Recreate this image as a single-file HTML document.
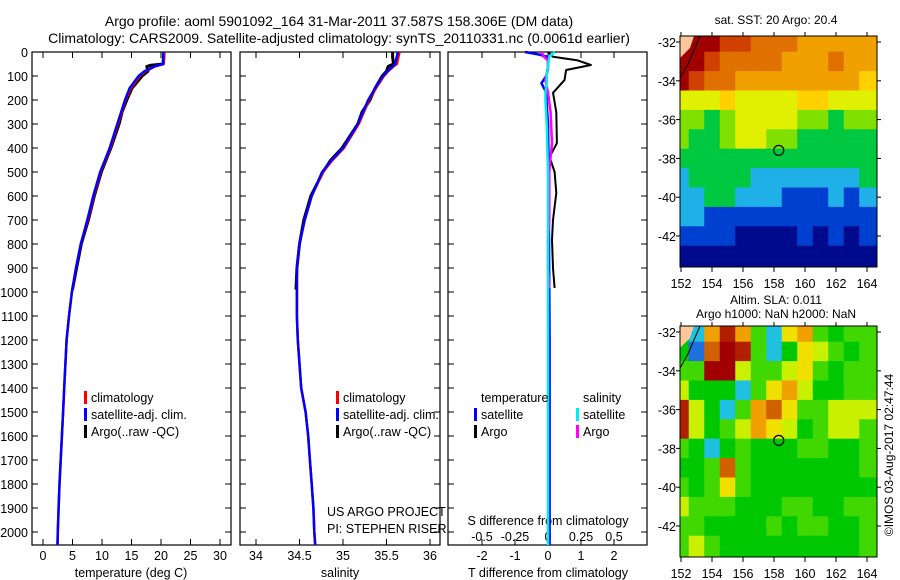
<!DOCTYPE html>
<html><head><meta charset="utf-8"><style>
body{margin:0;background:#fff;}
svg{display:block;font-family:"Liberation Sans",sans-serif;}
text{fill:#000;}
</style></head><body>
<svg id="c" width="900" height="580" xmlns="http://www.w3.org/2000/svg">
<defs>
<clipPath id="cm1"><rect x="680" y="36" width="197" height="231"/></clipPath>
<clipPath id="cm2"><rect x="680" y="326" width="197" height="231"/></clipPath>
</defs>
<text x="339" y="26" font-size="14" text-anchor="middle">Argo profile: aoml 5901092_164 31-Mar-2011 37.587S 158.306E (DM data)</text>
<text x="339" y="43" font-size="14" text-anchor="middle">Climatology: CARS2009. Satellite-adjusted climatology: synTS_20110331.nc (0.0061d earlier)</text>
<text x="776" y="24" font-size="12" text-anchor="middle">sat. SST: 20 Argo: 20.4</text>
<text x="776" y="304" font-size="12" text-anchor="middle">Altim. SLA: 0.011</text>
<text x="776" y="318" font-size="12" text-anchor="middle">Argo h1000: NaN h2000: NaN</text>
<text transform="translate(893,455) rotate(-90)" font-size="12" text-anchor="middle">©IMOS 03-Aug-2017 02:47:44</text>
<g id="g"></g>
</svg>
<script>
// ---- profile data ----
const depthsClim = [0,50,60,80,100,150,200,300,400,450,500,600,700,800,900,1000,1100,1200,1300,1400,1500,1600,1700,1800,1900,2000,2054];
const tempClim  = [20.6,20.4,19.0,17.4,16.4,14.9,14.0,12.7,11.4,10.6,9.8,8.6,7.6,6.4,5.6,4.9,4.4,4.0,3.8,3.6,3.4,3.2,3.0,2.8,2.65,2.5,2.45];
const tempSat   = [20.4,20.3,18.9,17.2,16.2,14.7,13.9,12.6,11.3,10.5,9.7,8.5,7.5,6.4,5.6,4.9,4.4,4.0,3.8,3.6,3.4,3.2,3.0,2.8,2.65,2.5,2.45];
const salClim   = [35.65,35.62,35.58,35.52,35.47,35.38,35.30,35.18,35.01,34.88,34.77,34.64,34.56,34.5,34.47,34.47,34.47,34.48,34.5,34.52,34.57,34.6,34.62,34.64,34.66,34.67,34.68];
const salSat    = [35.63,35.6,35.57,35.51,35.46,35.37,35.29,35.17,35.0,34.87,34.76,34.64,34.56,34.5,34.47,34.47,34.47,34.48,34.5,34.52,34.57,34.6,34.62,34.64,34.66,34.67,34.68];
const depthsArgo = [0,20,50,55,60,80,100,150,200,250,300,400,450,500,600,700,800,900,990];
const tempArgo = [20.5,20.5,20.4,18.3,17.6,17.8,16.8,15.1,14.2,13.4,12.9,11.5,10.7,9.9,8.7,7.7,6.5,5.7,5.0];
const salArgo  = [35.57,35.57,35.58,35.55,35.52,35.5,35.45,35.37,35.31,35.22,35.17,34.99,34.86,34.77,34.63,34.55,34.5,34.47,34.46];
const depthsDiff = [0,20,35,54,75,117,170,250,380,437,500,587,700,783,900,983];
const tDiffArgo = [0,0.15,0.9,1.3,0.55,0.5,0.15,0.25,0.27,0.05,0.2,0.25,0.15,0.12,0.15,0.2];
const depthsSat = [0,10,20,60,100,130,170,200,300,500,800,1200,1600,2000,2054];
const tDiffSat = [-0.7,-0.3,0,0,-0.05,-0.2,-0.05,-0.05,0,0.02,0.03,0.05,0.05,0.05,0.05];
const sDiffArgo = [-0.05,-0.03,0,0.0,0.0,-0.02,0.0,0.02,0.03,0.02,0.01,0.01,0.01,0.0,0.0,0.01];
const sDiffSat = [0.05,0.03,0.01,0.0,-0.01,-0.01,-0.02,-0.02,-0.01,0.0,0.0,0.0,0.0,0.0,0.0];
const depthTicks = [0,100,200,300,400,500,600,700,800,900,1000,1100,1200,1300,1400,1500,1600,1700,1800,1900,2000];
const tempTicks = [0,5,10,15,20,25,30];
const salTicks = [34,34.5,35,35.5,36];
const salTickLabels = ["34","34.5","35","35.5","36"];
const tdTicks = [-2,-1,0,1,2];
const sdTicks = [-0.5,-0.25,0,0.25,0.5];
const sdTickLabels = ["-0.5","-0.25","0","0.25","0.5"];
// ---- map data (colour index 0..10) ----
const mapLons = [152,153,154,155,156,157,158,159,160,161,162,163,164];
const mapLats = [-32,-33,-34,-35,-36,-37,-38,-39,-40,-41,-42,-43];
const sstGrid = [
[10,10,10,9,9,8,8,8,7,7,7,7,7],
[10,10,9,8,8,8,8,7,7,7,8,7,7],
[10,9,8,8,7,7,7,7,7,7,7,7,6],
[5,5,5,6,5,5,5,5,6,6,5,5,5],
[4,4,3,4,5,5,5,5,4,4,3,4,4],
[4,3,3,4,5,5,4,4,3,3,3,3,3],
[3,3,3,3,3,3,3,3,3,3,3,3,3],
[2,3,3,3,3,2,2,2,2,2,2,2,3],
[2,2,3,3,2,2,2,1,1,1,2,1,2],
[2,2,1,1,1,1,1,1,1,1,1,1,1],
[1,1,1,1,0,0,0,0,1,0,1,0,1],
[0,0,0,0,0,0,0,0,0,0,0,0,0]];
const slaGrid = [
[3,2,7,9,7,4,2,6,7,4,3,4,4],
[3,1,8,10,9,4,2,3,6,5,4,3,4],
[4,4,10,10,5,4,4,5,6,4,3,4,4],
[5,3,3,3,2,4,6,7,5,3,3,4,4],
[9,5,3,2,4,7,8,6,4,4,5,5,5],
[9,5,3,4,5,7,6,5,3,4,5,5,4],
[4,3,2,3,4,3,3,3,4,4,3,3,4],
[3,3,4,8,4,3,3,3,3,3,3,3,4],
[4,3,4,6,4,3,3,3,3,3,3,3,3],
[5,4,4,4,3,3,3,4,4,3,3,4,4],
[4,4,3,3,3,3,4,3,4,4,3,3,4],
[4,5,4,3,3,3,3,3,3,3,3,3,4]];
const mapLonTicks = [152,154,156,158,160,162,164];
const mapLatTicks = [-32,-34,-36,-38,-40,-42];
const argoLon = 158.306, argoLat = -37.587;

const cmap = ["#000a8c","#0040d0","#20b0e8","#00c840","#80e000","#e0f000","#ffd000","#f0a000","#e07000","#d04000","#a00000"];
const slaCmap = ["#000a8c","#2070e0","#20c0e0","#00c800","#40d800","#c8f000","#f0e000","#f0a000","#d06000","#b02000","#a00000"];
const NS="http://www.w3.org/2000/svg";
const G=document.getElementById('g');
function el(t,a,p){const e=document.createElementNS(NS,t);for(const k in a)e.setAttribute(k,a[k]);(p||G).appendChild(e);return e;}
const Y=d=>52+d*0.24;
const xT=v=>43+v*5.9, xS=v=>256+(v-34)*87, xTD=v=>548+v*33, xSD=v=>548+v*132;
const panels=[[32,231],[240,440],[448,647]];
panels.forEach((p,i)=>{
 const r=el('rect',{x:p[0],y:52,width:p[1]-p[0],height:493,fill:'none',stroke:'#000','stroke-width':1.2});
 
 
 depthTicks.forEach(d=>{el('line',{x1:p[0],x2:p[0]+6,y1:Y(d),y2:Y(d),stroke:'#000'});el('line',{x1:p[1],x2:p[1]-6,y1:Y(d),y2:Y(d),stroke:'#000'});});
});
depthTicks.forEach(d=>{const t=el('text',{x:28,y:Y(d)+5,'font-size':12.5,'text-anchor':'end'});t.textContent=d;
 
 });
function xticks(vals,labels,fx,y,lab){vals.forEach((v,i)=>{const x=fx(v);
 el('line',{x1:x,x2:x,y1:545,y2:539,stroke:'#000'});el('line',{x1:x,x2:x,y1:52,y2:58,stroke:'#000'});
 const t=el('text',{x:x,y:y,'font-size':12.5,'text-anchor':'middle'});t.textContent=labels[i];
 
 });}
xticks(tempTicks,tempTicks.map(String),xT,560,'temp-tick-label');
xticks(salTicks,salTickLabels,xS,560,'salinity-tick-label');
xticks(tdTicks,tdTicks.map(String),xTD,560,'tdiff-tick-label');
sdTicks.forEach((v,i)=>{const t=el('text',{x:xSD(v),y:541,'font-size':12.5,'text-anchor':'middle'});t.textContent=sdTickLabels[i];
 
 });
function txt(x,y,s,name,anchor){const t=el('text',{x:x,y:y,'font-size':12.5,'text-anchor':anchor||'start'});t.textContent=s;
 
 return t;}
txt(131,577,'temperature (deg C)','temp-axis-title','middle');
txt(340,577,'salinity','salinity-axis-title','middle');
txt(548,577,'T difference from climatology','tdiff-axis-title','middle');
txt(548,525,'S difference from climatology','sdiff-axis-title','middle');
txt(327,516,'US ARGO PROJECT','project-label');
txt(327,533,'PI: STEPHEN RISER','pi-label');
function line(xs,ds,fx,col,name,w){const pts=xs.map((v,i)=>fx(v).toFixed(1)+','+Y(ds[i]).toFixed(1)).join(' ');
 const l=el('polyline',{points:pts,fill:'none',stroke:col,'stroke-width':w||2.5,'stroke-linejoin':'round'});
 
 }
line(tempArgo,depthsArgo,xT,'#000','temp-argo-line',3);
line(tempClim,depthsClim,xT,'#f00','temp-climatology-line');
line(tempSat,depthsClim,xT,'#00f','temp-satellite-line');
line(salArgo,depthsArgo,xS,'#000','salinity-argo-line',3);
line(salClim,depthsClim,xS,'#f00','salinity-climatology-line');
line(salSat,depthsClim,xS,'#00f','salinity-satellite-line');
line(tDiffArgo,depthsDiff,xTD,'#000','tdiff-argo-line',2);
line(tDiffSat,depthsSat,xTD,'#00f','tdiff-satellite-line',2.5);
line(sDiffArgo,depthsDiff,xSD,'#f0f','sdiff-argo-line',2.5);
line(sDiffSat,depthsSat,xSD,'#0ee','sdiff-satellite-line',2.5);
function leg(x,y,col,s,name){el('rect',{x:x,y:y-11,width:3,height:13,fill:col});txt(x+7,y,s,name);}
[[84,'climatology-legend'],[336,'salinity-legend']].forEach(([x,n])=>{
 leg(x,402,'#f00','climatology',n+'-climatology');
 leg(x,419,'#00f','satellite-adj. clim.',n+'-satellite');
 leg(x,436,'#000','Argo(..raw -QC)',n+'-argo');});
txt(481,402,'temperature','legend-temperature-header');
txt(583,402,'salinity','legend-salinity-header');
leg(474,419,'#00f','satellite','legend-t-satellite');
leg(474,436,'#000','Argo','legend-t-argo');
leg(576,419,'#0ee','satellite','legend-s-satellite');
leg(576,436,'#f0f','Argo','legend-s-argo');
// ---- maps ----
const mX=lon=>681+(lon-152)*15.5;
function drawMap(top,grid,cm,name,clip){
 const mY=lat=>top+6+(-32-lat)*19.4;
 const g=el('g',{'clip-path':'url(#'+clip+')'});
 
 
 grid.forEach((row,r)=>row.forEach((v,c)=>{const x=mX(mapLons[c]-0.5),y=mY(mapLats[r]+0.5);
  const ex=(c==0?-20:0), ey=(r==0?-20:0), ew=(c==row.length-1?20:0), eh=(r==grid.length-1?20:0);
  el('rect',{x:x+ex,y:y+ey,width:16-ex+ew,height:19.9-ey+eh,fill:cm[v]},g);}));
 el('polygon',{points:`680,${top} 694,${top} 690,${top+12} 686,${top+16} 680,${top+22}`,fill:'#fcc89a'},g);
 el('polyline',{points:`700,${top} 694,${top+14} 688,${top+28} 680,${top+42}`,fill:'none',stroke:'#000'},g);
 el('rect',{x:680,y:top,width:197,height:231,fill:'none',stroke:'#000'});
 const ci=el('circle',{cx:mX(argoLon),cy:mY(argoLat),r:5,fill:'none',stroke:'#000','stroke-width':1.2});
 
 
 mapLonTicks.forEach(l=>{const x=mX(l);el('line',{x1:x,x2:x,y1:top+231,y2:top+236,stroke:'#000'});el('line',{x1:x,x2:x,y1:top,y2:top-4,stroke:'#000'});
  const t=el('text',{x:x,y:top+252,'font-size':12.5,'text-anchor':'middle'});t.textContent=l;
  
  });
 mapLatTicks.forEach(l=>{const y=mY(l);el('line',{x1:680,x2:676,y1:y,y2:y,stroke:'#000'});el('line',{x1:877,x2:881,y1:y,y2:y,stroke:'#000'});
  const t=el('text',{x:676,y:y+5,'font-size':12.5,'text-anchor':'end'});t.textContent=l;
  
  });
}
drawMap(36,sstGrid,cmap,'sst-map','cm1');
drawMap(326,slaGrid,slaCmap,'sla-map','cm2');
</script>
</body></html>
